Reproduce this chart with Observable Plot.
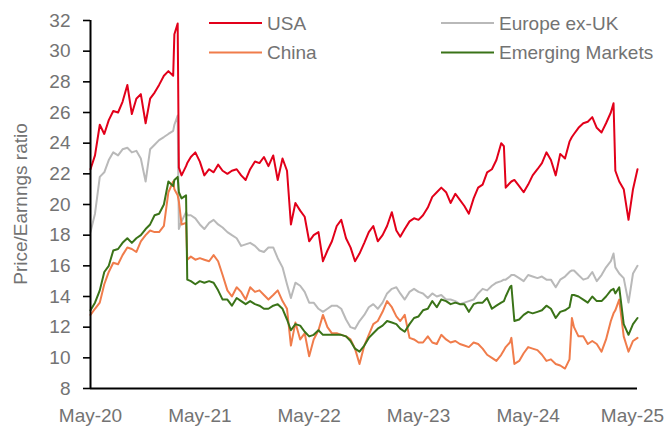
<!DOCTYPE html>
<html><head><meta charset="utf-8">
<script src="https://cdn.jsdelivr.net/npm/d3@7"></script>
<script src="https://cdn.jsdelivr.net/npm/@observablehq/plot@0.6"></script>
<style>
html,body{margin:0;padding:0;background:#fff;}
#chart{position:relative;width:666px;height:426px;font-family:"Liberation Sans",Arial,sans-serif;}
#chart svg [aria-label="y-axis tick label"], #chart svg [aria-label="x-axis tick label"]{fill:#737373;}
</style></head><body><div id="chart"></div>
<script>
// Semi-monthly observation dates (plus a few extra dates around sharp moves)
const dates = [
 "2020-05-01","2020-05-16","2020-06-01","2020-06-16","2020-07-01","2020-07-16","2020-08-01","2020-08-16","2020-09-01","2020-09-16","2020-10-01","2020-10-16","2020-11-01","2020-11-16","2020-12-01","2020-12-16","2021-01-01","2021-01-16","2021-02-01","2021-02-05","2021-02-16","2021-02-20","2021-03-01","2021-03-16","2021-03-20","2021-04-01","2021-04-16",
 "2021-05-01","2021-05-16","2021-06-01","2021-06-16","2021-07-01","2021-07-16","2021-08-01","2021-08-16","2021-09-01","2021-09-16","2021-10-01","2021-10-16","2021-11-01","2021-11-16","2021-12-01","2021-12-16","2022-01-01","2022-01-16","2022-02-01","2022-02-16","2022-03-01","2022-03-16","2022-04-01","2022-04-16",
 "2022-05-01","2022-05-16","2022-06-01","2022-06-16","2022-07-01","2022-07-16","2022-08-01","2022-08-16","2022-09-01","2022-09-16","2022-10-01","2022-10-16","2022-11-01","2022-11-16","2022-12-01","2022-12-16","2023-01-01","2023-01-16","2023-02-01","2023-02-16","2023-03-01","2023-03-16","2023-04-01","2023-04-16",
 "2023-05-01","2023-05-16","2023-06-01","2023-06-16","2023-07-01","2023-07-16","2023-08-01","2023-08-16","2023-09-01","2023-09-16","2023-10-01","2023-10-16","2023-11-01","2023-11-16","2023-12-01","2023-12-16","2024-01-01","2024-01-16","2024-02-01","2024-02-10","2024-02-16","2024-03-01","2024-03-06","2024-03-16","2024-04-01","2024-04-16",
 "2024-05-01","2024-05-16","2024-06-01","2024-06-16","2024-07-01","2024-07-16","2024-08-01","2024-08-16","2024-09-01","2024-09-16","2024-09-24","2024-10-01","2024-10-16","2024-11-01","2024-11-16","2024-12-01","2024-12-16","2025-01-01","2025-01-16","2025-02-01","2025-02-10","2025-02-16","2025-03-01","2025-03-16","2025-04-01","2025-04-16","2025-05-01"
];
const usa = [
 22.3,23.2,25.2,24.6,25.5,26.1,26.0,26.7,27.8,25.9,26.9,27.2,25.3,26.9,27.3,27.8,28.4,28.7,28.4,31.1,31.8,22.4,21.9,22.5,22.7,23.1,23.4,
 22.8,21.9,22.3,22.1,22.6,22.2,22.0,22.2,22.3,21.9,21.6,22.3,22.8,22.7,23.1,22.5,23.2,21.6,23.0,22.2,18.7,20.1,19.6,19.2,
 17.6,18.0,18.2,16.3,17.0,17.6,18.6,19.0,17.8,17.2,16.3,16.8,17.5,18.2,18.6,17.6,18.0,18.6,19.5,18.3,17.9,18.4,18.9,19.1,
 19.0,19.3,19.8,20.5,20.8,21.1,20.8,20.1,20.7,20.3,19.9,19.4,20.4,21.1,21.3,22.1,22.3,22.9,24.0,23.8,21.1,21.4,21.5,21.6,21.2,20.8,
 21.3,21.9,22.3,22.7,23.4,22.9,21.9,23.3,23.0,24.1,24.4,24.6,25.0,25.3,25.4,25.7,25.0,24.7,25.3,26.0,26.6,22.2,21.5,21.0,19.0,21.0,22.3
];
const europe = [
 18.2,19.4,21.8,22.1,22.9,23.4,23.2,23.6,23.7,23.4,23.5,23.0,21.5,23.6,23.9,24.2,24.4,24.6,24.8,25.2,25.8,18.4,18.9,19.5,19.3,19.3,19.1,
 18.7,18.4,18.8,19.0,18.7,18.5,18.2,18.0,17.8,17.3,17.4,17.5,17.3,17.0,16.9,17.2,17.2,16.5,15.9,14.8,13.9,14.9,14.7,14.3,
 13.6,13.6,13.2,13.0,13.2,13.4,13.4,13.2,12.5,12.0,11.9,12.4,12.8,13.3,13.5,13.2,13.6,14.2,14.5,14.6,14.2,13.8,14.3,14.5,
 14.3,14.2,13.9,14.2,14.0,14.1,13.8,13.8,13.7,13.5,13.6,13.7,13.8,14.2,14.5,14.4,14.7,14.9,15.0,15.1,15.1,15.3,15.4,15.4,15.2,15.0,
 15.4,15.3,15.2,15.3,15.1,15.1,14.6,15.1,15.3,15.6,15.7,15.7,15.4,15.1,15.2,15.6,15.0,15.4,15.9,16.3,16.8,15.9,15.5,15.2,13.6,15.5,16.0
];
const china = [
 12.8,13.2,13.6,14.8,15.6,16.2,16.1,16.7,17.2,17.1,16.9,17.6,18.0,18.3,18.2,18.2,18.6,20.8,21.5,21.0,20.6,20.2,18.7,18.8,16.4,16.6,16.4,
 16.5,16.4,16.3,16.7,16.3,15.4,14.4,14.0,14.6,14.3,13.8,14.6,14.3,14.4,14.1,13.8,14.1,14.4,13.7,13.2,10.8,12.3,11.2,11.6,
 10.1,11.2,11.8,12.8,12.0,11.6,11.6,11.5,11.4,11.2,10.6,9.6,10.8,11.5,12.2,12.4,13.0,13.7,13.3,12.7,12.4,12.8,11.3,11.2,
 11.0,11.0,11.4,11.0,10.9,11.5,11.2,11.0,11.1,10.9,10.8,10.7,11.0,10.9,10.6,10.2,10.0,9.8,10.2,10.5,10.7,11.0,11.3,9.6,9.8,10.3,
 10.7,10.6,10.5,10.2,9.8,9.9,9.6,9.5,9.3,9.9,12.6,12.0,11.4,11.4,10.9,11.1,10.9,10.4,11.2,12.4,12.9,13.1,13.8,11.4,10.4,11.1,11.3
];
const emerging = [
 13.1,13.6,14.4,15.6,16.0,17.0,17.1,17.5,17.8,17.5,17.8,18.0,18.4,18.7,19.3,19.4,20.0,21.5,21.2,21.6,21.8,20.8,20.4,20.6,15.1,15.0,14.8,
 15.0,14.9,15.0,14.9,14.4,13.8,13.8,13.4,13.9,13.7,13.5,13.7,13.5,13.4,13.2,13.2,13.4,13.5,13.2,12.5,11.8,12.2,12.1,11.7,
 11.4,11.5,11.8,11.5,11.5,11.5,11.5,11.5,11.4,11.1,10.6,10.4,10.8,11.3,11.6,11.9,12.1,12.4,12.3,12.2,11.9,11.7,12.2,12.6,
 12.7,13.1,13.2,13.7,13.3,13.8,13.7,13.5,13.6,13.5,13.5,13.0,13.5,13.6,13.6,13.9,13.2,13.4,13.6,13.7,14.0,14.6,14.7,12.4,12.5,12.8,
 13.0,12.9,13.0,13.1,13.4,13.2,12.6,13.0,13.1,13.3,14.1,14.1,14.0,13.8,13.6,14.0,13.7,13.7,14.0,14.4,14.5,14.2,14.6,12.2,11.5,12.2,12.6
];
const seriesNames = ["USA","Europe ex-UK","China","Emerging Markets"];
const seriesColors = ["#e2001a","#b9b9b9","#f07c4b","#3a7318"];
const yTicks = [8,10,12,14,16,18,20,22,24,26,28,30,32];
const xTicks = ["2020-05-01","2021-05-01","2022-05-01","2023-05-01","2024-05-01","2025-05-01"];
const yLabel = "Price/Earnngs ratio";

const parse = d3.utcParse("%Y-%m-%d");
const seriesValues = {"USA": usa, "Europe ex-UK": europe, "China": china, "Emerging Markets": emerging};
const drawOrder = ["Europe ex-UK","China","Emerging Markets","USA"];
const rows = [];
for (const name of drawOrder) {
  seriesValues[name].forEach((v, j) => rows.push({date: parse(dates[j]), value: v, series: name}));
}
const xStart = parse(xTicks[0]), xEnd = parse(xTicks[xTicks.length-1]);
const fmt = d3.utcFormat("%b-%y");

const chart = Plot.plot({
  width: 666, height: 426,
  marginLeft: 90, marginRight: 29, marginTop: 20, marginBottom: 38,
  style: {fontFamily: '"Liberation Sans", Arial, sans-serif', fontSize: "19px", background: "#fff"},
  x: {type: "utc", domain: [xStart, xEnd]},
  y: {domain: [8, 32]},
  color: {domain: seriesNames, range: seriesColors},
  marks: [
    Plot.lineY(rows, {x: "date", y: "value", z: "series", stroke: "series", strokeWidth: 2, strokeLinejoin: "round"}),
    Plot.ruleX([xStart], {stroke: "#000", strokeWidth: 2}),
    Plot.ruleY([8], {stroke: "#000", strokeWidth: 2}),
    Plot.axisY({ticks: yTicks, tickSize: 7, tickPadding: 13, strokeWidth: 1.6, stroke: "#000", label: null}),
    Plot.axisX({ticks: xTicks.slice(0, -1).map(parse), tickSize: 0, tickPadding: 20, tickFormat: fmt, label: null}),
    Plot.axisX({ticks: xTicks.slice(-1).map(parse), tickSize: 0, tickPadding: 20, tickFormat: fmt, dx: -5, label: null})
  ]
});
document.getElementById("chart").appendChild(chart);

// Legend and axis title
const svg = d3.select(chart);
const legendItems = [
  {name: "USA", x: 209, y: 23},
  {name: "Europe ex-UK", x: 441, y: 23},
  {name: "China", x: 209, y: 52.5},
  {name: "Emerging Markets", x: 441, y: 52.5}
];
const lg = svg.append("g").attr("font-size", 19).attr("text-anchor", "start")
  .attr("font-family", '"Liberation Sans", Arial, sans-serif');
for (const it of legendItems) {
  const c = seriesColors[seriesNames.indexOf(it.name)];
  lg.append("line").attr("x1", it.x).attr("x2", it.x + 53).attr("y1", it.y).attr("y2", it.y)
    .attr("stroke", c).attr("stroke-width", 2);
  lg.append("text").attr("x", it.x + 58).attr("y", it.y + 6.5).attr("text-anchor", "start")
    .attr("fill", "#737373").text(it.name);
}
svg.append("text")
  .attr("transform", "translate(27,204) rotate(-90)")
  .attr("text-anchor", "middle")
  .attr("font-size", 19)
  .attr("font-family", '"Liberation Sans", Arial, sans-serif')
  .attr("fill", "#737373")
  .text(yLabel);
</script>
</body></html>
